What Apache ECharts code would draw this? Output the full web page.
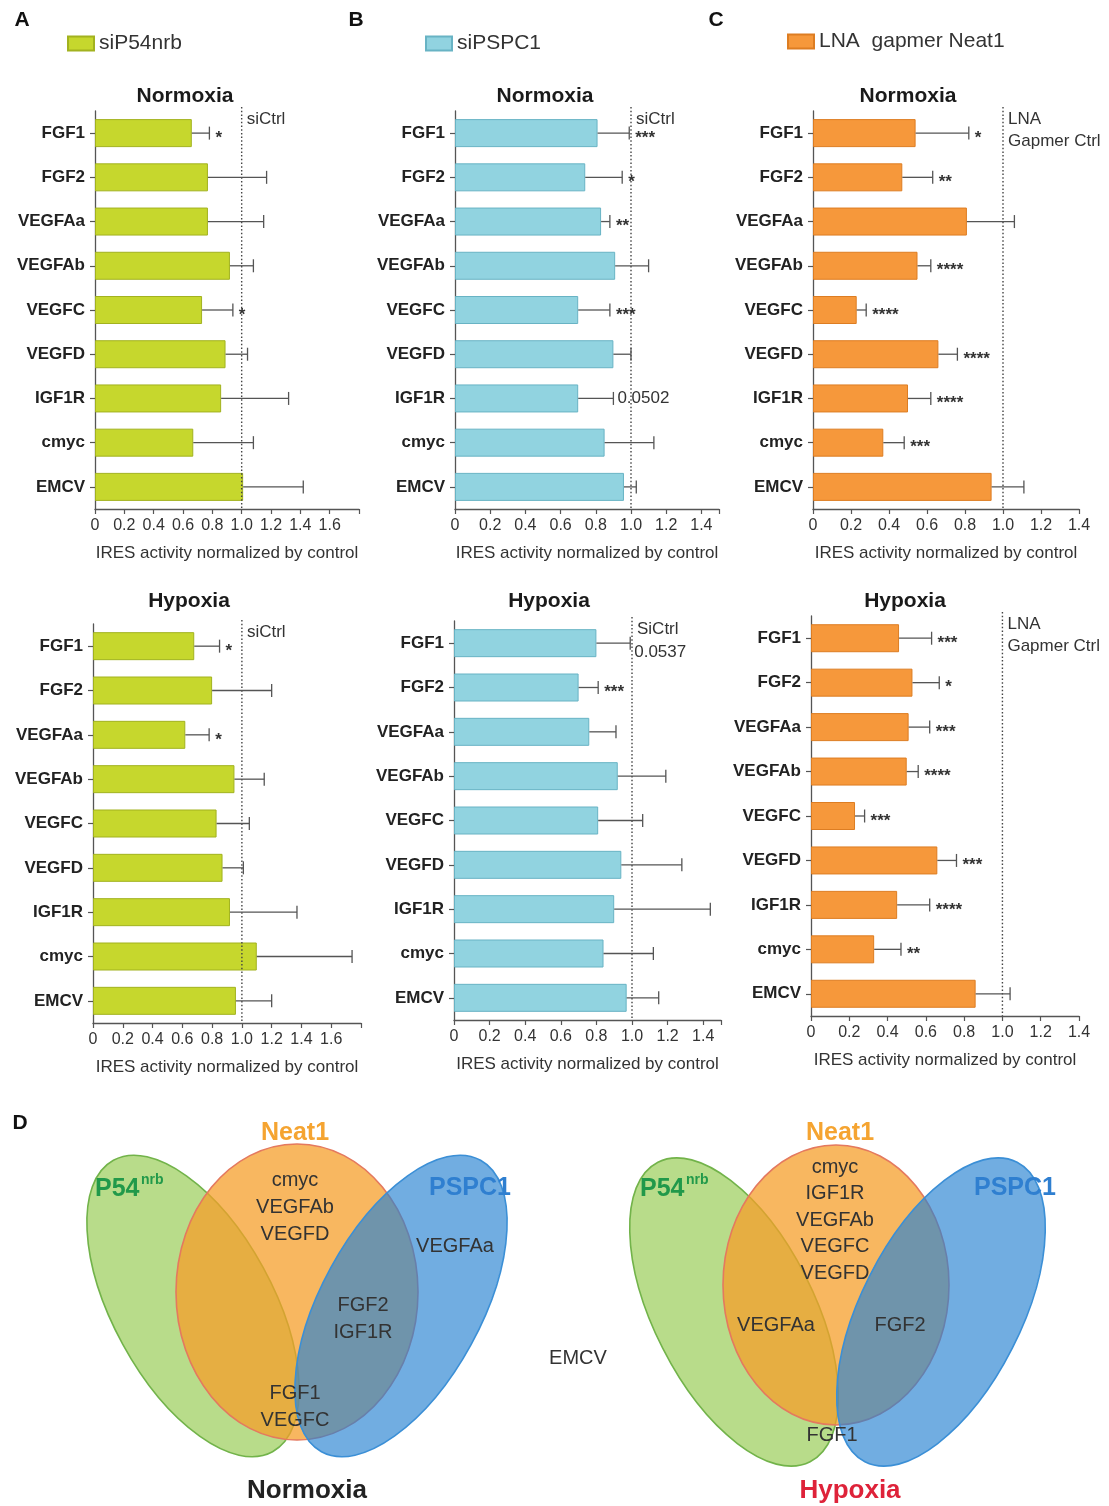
<!DOCTYPE html>
<html>
<head>
<meta charset="utf-8">
<script src="https://cdn.jsdelivr.net/npm/echarts@6/dist/echarts.min.js"></script>
<style>
  html, body { margin: 0; padding: 0; background: #fff; }
  #chart { width: 1109px; height: 1506px; }
</style>
</head>
<body>
<div id="chart"></div>
<script>
// ---- Genes (IRES reporters) ----
const genes = ['FGF1', 'FGF2', 'VEGFAa', 'VEGFAb', 'VEGFC', 'VEGFD', 'IGF1R', 'cmyc', 'EMCV'];

// ---- siP54nrb ----
const p54NormMean = [0.66, 0.77, 0.77, 0.92, 0.73, 0.89, 0.86, 0.67, 1.01];
const p54NormErr  = [0.78, 1.17, 1.15, 1.08, 0.94, 1.04, 1.32, 1.08, 1.42];
const p54NormSig  = ['*', '', '', '', '*', '', '', '', ''];
const p54HypMean  = [0.68, 0.80, 0.62, 0.95, 0.83, 0.87, 0.92, 1.10, 0.96];
const p54HypErr   = [0.85, 1.20, 0.78, 1.15, 1.05, 1.01, 1.37, 1.74, 1.20];
const p54HypSig   = ['*', '', '*', '', '', '', '', '', ''];

// ---- siPSPC1 ----
const pspcNormMean = [0.81, 0.74, 0.83, 0.91, 0.70, 0.90, 0.70, 0.85, 0.96];
const pspcNormErr  = [0.99, 0.95, 0.88, 1.10, 0.88, 1.00, 0.90, 1.13, 1.03];
const pspcNormSig  = ['***', '*', '**', '', '***', '', '0.0502', '', ''];
const pspcHypMean  = [0.80, 0.70, 0.76, 0.92, 0.81, 0.94, 0.90, 0.84, 0.97];
const pspcHypErr   = [0.99, 0.81, 0.91, 1.19, 1.06, 1.28, 1.44, 1.12, 1.15];
const pspcHypSig   = ['0.0537', '***', '', '', '', '', '', '', ''];

// ---- LNA gapmer Neat1 ----
const neatNormMean = [0.54, 0.47, 0.81, 0.55, 0.23, 0.66, 0.50, 0.37, 0.94];
const neatNormErr  = [0.82, 0.63, 1.06, 0.62, 0.28, 0.76, 0.62, 0.48, 1.11];
const neatNormSig  = ['*', '**', '', '****', '****', '****', '****', '***', ''];
const neatHypMean  = [0.46, 0.53, 0.51, 0.50, 0.23, 0.66, 0.45, 0.33, 0.86];
const neatHypErr   = [0.63, 0.67, 0.62, 0.56, 0.28, 0.76, 0.62, 0.47, 1.04];
const neatHypSig   = ['***', '*', '***', '****', '***', '***', '****', '**', ''];

// ---- Tick labels ----
const ticks16 = ['0', '0.2', '0.4', '0.6', '0.8', '1.0', '1.2', '1.4', '1.6'];
const ticks14 = ['0', '0.2', '0.4', '0.6', '0.8', '1.0', '1.2', '1.4'];

// ---- Venn regions (genes with significant IRES change) ----
const vennNormNeat1Only   = ['cmyc', 'VEGFAb', 'VEGFD'];
const vennNormPspc1Only   = ['VEGFAa'];
const vennNormNeat1Pspc1  = ['FGF2', 'IGF1R'];
const vennNormAll         = ['FGF1', 'VEGFC'];
const vennHypNeat1Only    = ['cmyc', 'IGF1R', 'VEGFAb', 'VEGFC', 'VEGFD'];
const vennHypNeat1P54     = ['VEGFAa'];
const vennHypNeat1Pspc1   = ['FGF2'];
const vennHypAll          = ['FGF1'];
const vennUnchanged       = ['EMCV'];

const FONT = '"Liberation Sans", Arial, Helvetica, sans-serif';
const GREEN = { fill: '#c6d72d', edge: '#a2b21f' };
const CYAN  = { fill: '#91d3e0', edge: '#68b3c4' };
const ORANGE = { fill: '#f6983b', edge: '#dd7d22' };

const panels = [
  { name: 'siP54nrb', cond: 'Normoxia', mean: p54NormMean, err: p54NormErr, sig: p54NormSig, ctrl: 'siCtrl', col: GREEN,
    grid: { left: 95, top: 111, width: 264, height: 398 }, max: 1.8, ticks: ticks16, titleAt: [185, 96] },
  { name: 'siPSPC1', cond: 'Normoxia', mean: pspcNormMean, err: pspcNormErr, sig: pspcNormSig, ctrl: 'siCtrl', col: CYAN,
    grid: { left: 455, top: 111, width: 264, height: 398 }, max: 1.5, ticks: ticks14, titleAt: [545, 96] },
  { name: 'LNA  gapmer Neat1', cond: 'Normoxia', mean: neatNormMean, err: neatNormErr, sig: neatNormSig, ctrl: 'LNA\nGapmer Ctrl', col: ORANGE,
    grid: { left: 813, top: 111, width: 266, height: 398 }, max: 1.4, ticks: ticks14, titleAt: [908, 96] },
  { name: 'siP54nrb', cond: 'Hypoxia', mean: p54HypMean, err: p54HypErr, sig: p54HypSig, ctrl: 'siCtrl', col: GREEN,
    grid: { left: 93, top: 624, width: 268, height: 399 }, max: 1.8, ticks: ticks16, titleAt: [189, 601] },
  { name: 'siPSPC1', cond: 'Hypoxia', mean: pspcHypMean, err: pspcHypErr, sig: pspcHypSig, ctrl: 'SiCtrl', col: CYAN,
    grid: { left: 454, top: 621, width: 267, height: 399 }, max: 1.5, ticks: ticks14, titleAt: [549, 601], noteBelow: ['FGF1'] },
  { name: 'LNA  gapmer Neat1', cond: 'Hypoxia', mean: neatHypMean, err: neatHypErr, sig: neatHypSig, ctrl: 'LNA\nGapmer Ctrl', col: ORANGE,
    grid: { left: 811, top: 616, width: 268, height: 400 }, max: 1.4, ticks: ticks14, titleAt: [905, 601] }
];

const grids = [], xAxes = [], yAxes = [], series = [], graphics = [];

panels.forEach((p, k) => {
  grids.push(Object.assign({ containLabel: false }, p.grid));
  xAxes.push({
    gridIndex: k, type: 'value', min: 0, max: p.max, interval: 0.2,
    axisLine: { show: true, lineStyle: { color: '#555', width: 1.3 } },
    axisTick: { show: true, length: 5, lineStyle: { color: '#555', width: 1.2 } },
    splitLine: { show: false },
    axisLabel: {
      fontFamily: FONT, fontSize: 16, color: '#333', margin: 9,
      formatter: v => { const r = Math.round(v / 0.2); return (Math.abs(v / 0.2 - r) < 1e-6 && p.ticks[r] !== undefined) ? p.ticks[r] : ''; }
    },
    name: 'IRES activity normalized by control', nameLocation: 'middle', nameGap: 36,
    nameTextStyle: { fontFamily: FONT, fontSize: 17, color: '#333' }
  });
  yAxes.push({
    gridIndex: k, type: 'category', data: genes, inverse: true,
    axisLine: { show: true, lineStyle: { color: '#555', width: 1.3 } },
    axisTick: { show: true, length: 5, alignWithLabel: true, lineStyle: { color: '#555', width: 1.2 } },
    axisLabel: { fontFamily: FONT, fontSize: 17, fontWeight: 'bold', color: '#222', margin: 10 }
  });

  // bars
  series.push({
    name: p.name, type: 'bar', xAxisIndex: k, yAxisIndex: k, barWidth: 28,
    data: p.mean,
    itemStyle: { color: p.col.fill, borderColor: p.col.edge, borderWidth: 1 },
    z: 2
  });

  // one-sided error bars with significance marks
  series.push({
    name: p.cond + ' error ' + k, type: 'custom', xAxisIndex: k, yAxisIndex: k,
    data: genes.map((g, i) => [p.mean[i], p.err[i], i]),
    encode: { x: [0, 1], y: 2 },
    z: 4,
    renderItem: (params, api) => {
      const i = params.dataIndex;
      const p0 = api.coord([api.value(0), i]);
      const p1 = api.coord([api.value(1), i]);
      const stroke = { stroke: '#555', lineWidth: 1.3 };
      const kids = [
        { type: 'line', shape: { x1: p0[0], y1: p0[1], x2: p1[0], y2: p1[1] }, style: stroke },
        { type: 'line', shape: { x1: p1[0], y1: p1[1] - 6.5, x2: p1[0], y2: p1[1] + 6.5 }, style: stroke }
      ];
      const s = p.sig[i];
      if (s) {
        const isStar = s[0] === '*';
        const below = (p.noteBelow || []).indexOf(genes[i]) >= 0;
        kids.push({
          type: 'text', x: p1[0] + (isStar ? 6 : 4), y: p1[1] + (isStar ? 5 : (below ? 1 : 0)),
          style: {
            text: s, fill: '#333', fontFamily: FONT,
            fontSize: 17, fontWeight: isStar ? 'bold' : 'normal',
            align: 'left', verticalAlign: below ? 'top' : 'middle'
          }
        });
      }
      return { type: 'group', children: kids };
    }
  });

  // control reference line at 1.0
  series.push({
    name: p.cond + ' control ' + k, type: 'custom', xAxisIndex: k, yAxisIndex: k,
    data: [[1, 0]], encode: { x: 0, y: 1 }, z: 3, silent: true,
    renderItem: (params, api) => {
      const cs = params.coordSys;
      const x = api.coord([api.value(0), 0])[0];
      return {
        type: 'group', children: [
          { type: 'line', shape: { x1: x, y1: cs.y - 4, x2: x, y2: cs.y + cs.height },
            style: { stroke: '#444', lineWidth: 1.4, lineDash: [1.5, 2.2] } },
          { type: 'text', x: x + 5, y: cs.y - 3,
            style: { text: p.ctrl, fill: '#333', fontFamily: FONT, fontSize: 17, lineHeight: 22, align: 'left', verticalAlign: 'top' } }
        ]
      };
    }
  });

  graphics.push({
    type: 'text', x: p.titleAt[0], y: p.titleAt[1],
    style: { text: p.cond, fill: '#1a1a1a', fontFamily: FONT, fontSize: 21, fontWeight: 'bold', align: 'center', verticalAlign: 'middle' }
  });
});

// panel letters
[['A', 22, 20], ['B', 356, 20], ['C', 716, 20], ['D', 20, 1123]].forEach(([t, x, y]) => {
  graphics.push({ type: 'text', x, y, style: { text: t, fill: '#111', fontFamily: FONT, fontSize: 21, fontWeight: 'bold', align: 'center', verticalAlign: 'middle' } });
});

// ---- Venn diagrams ----
const VG = { fill: 'rgba(140,198,66,0.62)', stroke: '#72b34a' };
const VO = { fill: 'rgba(245,158,40,0.74)', stroke: '#e4795f' };
const VB = { fill: 'rgba(40,130,210,0.66)', stroke: '#3b8fd6' };

function ellipse(cx, cy, rx, ry, rot, c) {
  return { type: 'ellipse', x: cx, y: cy, rotation: rot, shape: { cx: 0, cy: 0, rx, ry },
           style: { fill: c.fill, stroke: c.stroke, lineWidth: 1.6 } };
}
function stack(list, cx, cy, size, lh) {
  const top = cy - (list.length - 1) * lh / 2;
  return list.map((t, i) => ({
    type: 'text', x: cx, y: top + i * lh,
    style: { text: t, fill: '#333', fontFamily: FONT, fontSize: size, align: 'center', verticalAlign: 'middle' }
  }));
}
function setTitles(cxNeat, xP54, xPspc) {
  return [
    { type: 'text', x: cxNeat, y: 1133, style: { text: 'Neat1', fill: '#f5a431', fontFamily: FONT, fontSize: 25, fontWeight: 'bold', align: 'center', verticalAlign: 'middle' } },
    { type: 'text', x: xP54, y: 1189, style: { text: 'P54', fill: '#21994a', fontFamily: FONT, fontSize: 25, fontWeight: 'bold', align: 'left', verticalAlign: 'middle' } },
    { type: 'text', x: xP54 + 46, y: 1180, style: { text: 'nrb', fill: '#21994a', fontFamily: FONT, fontSize: 14, fontWeight: 'bold', align: 'left', verticalAlign: 'middle' } },
    { type: 'text', x: xPspc, y: 1188, style: { text: 'PSPC1', fill: '#2f7fd0', fontFamily: FONT, fontSize: 25, fontWeight: 'bold', align: 'center', verticalAlign: 'middle' } }
  ];
}

// Normoxia Venn
graphics.push(
  ellipse(193, 1306, 80, 166, 0.50, VG),
  ellipse(297, 1292, 121, 148, 0, VO),
  ellipse(401, 1306, 80, 166, -0.50, VB),
  ...setTitles(295, 95, 470),
  ...stack(vennNormNeat1Only, 295, 1207, 20, 27),
  ...stack(vennNormPspc1Only, 455, 1246, 20, 27),
  ...stack(vennNormNeat1Pspc1, 363, 1319, 20, 27),
  ...stack(vennNormAll, 295, 1407, 20, 27),
  { type: 'text', x: 307, y: 1491, style: { text: 'Normoxia', fill: '#222', fontFamily: FONT, fontSize: 26, fontWeight: 'bold', align: 'center', verticalAlign: 'middle' } }
);
// Hypoxia Venn
graphics.push(
  ellipse(734, 1312, 80, 168, 0.47, VG),
  ellipse(836, 1285, 113, 140, 0, VO),
  ellipse(941, 1312, 80, 168, -0.47, VB),
  ...setTitles(840, 640, 1015),
  ...stack(vennHypNeat1Only, 835, 1220, 20, 26.5),
  ...stack(vennHypNeat1P54, 776, 1325, 20, 27),
  ...stack(vennHypNeat1Pspc1, 900, 1325, 20, 27),
  ...stack(vennHypAll, 832, 1435, 20, 27),
  { type: 'text', x: 850, y: 1491, style: { text: 'Hypoxia', fill: '#de2239', fontFamily: FONT, fontSize: 26, fontWeight: 'bold', align: 'center', verticalAlign: 'middle' } }
);
graphics.push(...stack(vennUnchanged, 578, 1358, 20, 26));

const legendBase = {
  orient: 'horizontal', itemWidth: 26, itemHeight: 14, icon: 'rect', selectedMode: false,
  textStyle: { fontFamily: FONT, fontSize: 21, color: '#333' }
};

const option = {
  backgroundColor: '#fff',
  animation: false,
  legend: [
    Object.assign({ data: ['siP54nrb'], left: 62, top: 28 }, legendBase),
    Object.assign({ data: ['siPSPC1'], left: 420, top: 28 }, legendBase),
    Object.assign({ data: ['LNA  gapmer Neat1'], left: 782, top: 26 }, legendBase)
  ],
  grid: grids,
  xAxis: xAxes,
  yAxis: yAxes,
  series: series,
  graphic: { elements: graphics }
};

const chart = echarts.init(document.getElementById('chart'), null, { renderer: 'canvas' });
chart.setOption(option);
</script>
</body>
</html>
